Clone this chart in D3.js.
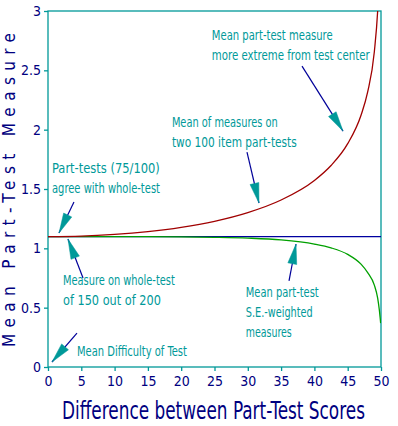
<!DOCTYPE html>
<html>
<head>
<meta charset="utf-8">
<script src="https://cdn.jsdelivr.net/npm/d3@7"></script>
<style>
  body { margin: 0; background: #fff; }
  svg { display: block; }
  text { font-family: "Liberation Sans Narrow", "DejaVu Sans Condensed", "Liberation Sans", sans-serif; }
</style>
</head>
<body>
<div id="chart"></div>
<script>
// values
var diffs   = [0, 5, 10, 15, 20, 25, 30, 35, 40, 42.5, 45, 47, 48, 49, 49.5, 49.75, 49.95];
var meanRaw = [1.099, 1.103, 1.117, 1.141, 1.177, 1.228, 1.301, 1.407, 1.572, 1.698, 1.882, 2.122, 2.318, 2.657, 3.0, 3.3, 3.6];
var meanSE  = [1.099, 1.099, 1.098, 1.098, 1.097, 1.093, 1.086, 1.071, 1.036, 1.004, 0.949, 0.867, 0.796, 0.69, 0.58, 0.48, 0.37];
var wholeTest = 1.0986;
var xTicks = [0, 5, 10, 15, 20, 25, 30, 35, 40, 45, 50];
var yTicks = [0, 0.5, 1, 1.5, 2, 2.5, 3];

// annotation text, anchored in data units
var notes = [
  { x: 24.6, y: 2.755, lines: ['Mean part-test measure', 'more extreme from test center'] },
  { x: 18.6, y: 2.022, lines: ['Mean of measures on', 'two 100 item part-tests'] },
  { x: 0.6,  y: 1.634, lines: ['Part-tests (75/100)', 'agree with whole-test'] },
  { x: 2.25, y: 0.691, lines: ['Measure on whole-test', 'of 150 out of 200'] },
  { x: 4.35, y: 0.093, lines: ['Mean Difficulty of Test'] },
  { x: 29.7, y: 0.59,  lines: ['Mean part-test', 'S.E.-weighted', 'measures'] }
];
// how wide each line is drawn in the reference (px)
var noteWidths = [[121, 158], [106, 125], [108, 108], [112, 98], [110], [73, 67, 46]];
// arrows: from tail to tip
var arrows = [
  { x0: 38.14, y0: 2.536, x1: 44.29, y1: 1.988 },
  { x0: 29.88, y0: 1.811, x1: 31.68, y1: 1.382 },
  { x0: 3.9,   y0: 1.39,  x1: 1.65,  y1: 1.129 },
  { x0: 5.26,  y0: 0.75,  x1: 3.0,   y1: 1.078 },
  { x0: 4.35,  y0: 0.286, x1: 0.6,   y1: 0.042 },
  { x0: 36.19, y0: 0.725, x1: 37.24, y1: 1.036 }
];

var W = 398, H = 426;
var teal = '#009999', navy = '#000080';

var svg = d3.select('#chart').append('svg')
    .attr('width', W)
    .attr('height', H);

var x = d3.scaleLinear().domain([0, 50]).range([48, 381]);
var y = d3.scaleLinear().domain([0, 3]).range([367, 11]);

// squeeze a text horizontally so it spans w pixels from (tx, ty)
function fitText(sel, tx, ty, w, angle) {
  var nat = sel.node().getComputedTextLength();
  var k = Math.min(1, w / nat);
  sel.attr('transform', 'translate(' + tx + ',' + ty + ')' + (angle ? ' rotate(' + angle + ')' : '') + ' scale(' + k + ',1)');
}

svg.append('clipPath').attr('id', 'plot')
  .append('rect')
    .attr('x', x(0)).attr('y', y(3))
    .attr('width', x(50) - x(0)).attr('height', y(0) - y(3));

// frame
svg.append('rect')
    .attr('x', x(0)).attr('y', y(3))
    .attr('width', x(50) - x(0)).attr('height', y(0) - y(3))
    .attr('fill', 'none').attr('stroke', teal).attr('stroke-width', 1.3);

var xAxis = svg.append('g')
    .attr('transform', 'translate(0,' + y(0) + ')')
    .call(d3.axisBottom(x).tickValues(xTicks).tickSize(4).tickPadding(5).tickFormat(d3.format('d')));
var yAxis = svg.append('g')
    .attr('transform', 'translate(' + x(0) + ',0)')
    .call(d3.axisLeft(y).tickValues(yTicks).tickSize(4).tickPadding(3).tickFormat(function (d) { return d; }));

[xAxis, yAxis].forEach(function (g) {
  g.select('.domain').remove();
  g.selectAll('line').attr('stroke', teal).attr('stroke-width', 1.3);
  g.selectAll('text').attr('fill', navy).style('font-size', '14px')
    .style('font-family', '"Liberation Sans Narrow", "DejaVu Sans Condensed", "Liberation Sans", sans-serif');
});

// curves
var rows = diffs.map(function (d, i) { return { d: d, raw: meanRaw[i], se: meanSE[i] }; });
var curves = svg.append('g').attr('clip-path', 'url(#plot)');

curves.append('line')
    .attr('x1', x(0)).attr('x2', x(50))
    .attr('y1', y(wholeTest)).attr('y2', y(wholeTest))
    .attr('stroke', '#0000a0').attr('stroke-width', 1.3);

curves.append('path')
    .datum(rows)
    .attr('fill', 'none').attr('stroke', '#00a000').attr('stroke-width', 1.3)
    .attr('d', d3.line().x(function (r) { return x(r.d); }).y(function (r) { return y(r.se); }).curve(d3.curveMonotoneX));

curves.append('path')
    .datum(rows)
    .attr('fill', 'none').attr('stroke', '#a00000').attr('stroke-width', 1.3)
    .attr('d', d3.line().x(function (r) { return x(r.d); }).y(function (r) { return y(r.raw); }).curve(d3.curveMonotoneX));

// arrows
arrows.forEach(function (a) {
  var px0 = x(a.x0), py0 = y(a.y0), px1 = x(a.x1), py1 = y(a.y1);
  var dx = px1 - px0, dy = py1 - py0, len = Math.sqrt(dx * dx + dy * dy);
  var ux = dx / len, uy = dy / len;
  var bx = px1 - ux * 20, by = py1 - uy * 20;
  svg.append('line')
      .attr('x1', px0).attr('y1', py0).attr('x2', px1).attr('y2', py1)
      .attr('stroke', '#000099').attr('stroke-width', 1.2);
  svg.append('path')
      .attr('d', 'M' + px1 + ',' + py1 +
                 'L' + (bx - uy * 4.5) + ',' + (by + ux * 4.5) +
                 'L' + (bx + uy * 4.5) + ',' + (by - ux * 4.5) + 'Z')
      .attr('fill', teal).attr('stroke', teal).attr('stroke-width', 0.5);
});

// notes
notes.forEach(function (n, k) {
  n.lines.forEach(function (l, i) {
    var t = svg.append('text')
        .attr('fill', teal)
        .style('font-size', '14px')
        .text(l);
    fitText(t, x(n.x), y(n.y) + i * 20, noteWidths[k][i]);
  });
});

// axis titles
var xt = svg.append('text')
    .attr('fill', navy)
    .style('font-size', '24px')
    .text('Difference between Part-Test Scores');
fitText(xt, 62, 419, 303);

svg.append('text')
    .attr('transform', 'translate(15,' + 347 + ') rotate(-90)')
    .attr('textLength', 314).attr('lengthAdjust', 'spacing')
    .attr('fill', navy)
    .style('font-size', '17px')
    .text('Mean Part-Test Measure');
</script>
</body>
</html>
